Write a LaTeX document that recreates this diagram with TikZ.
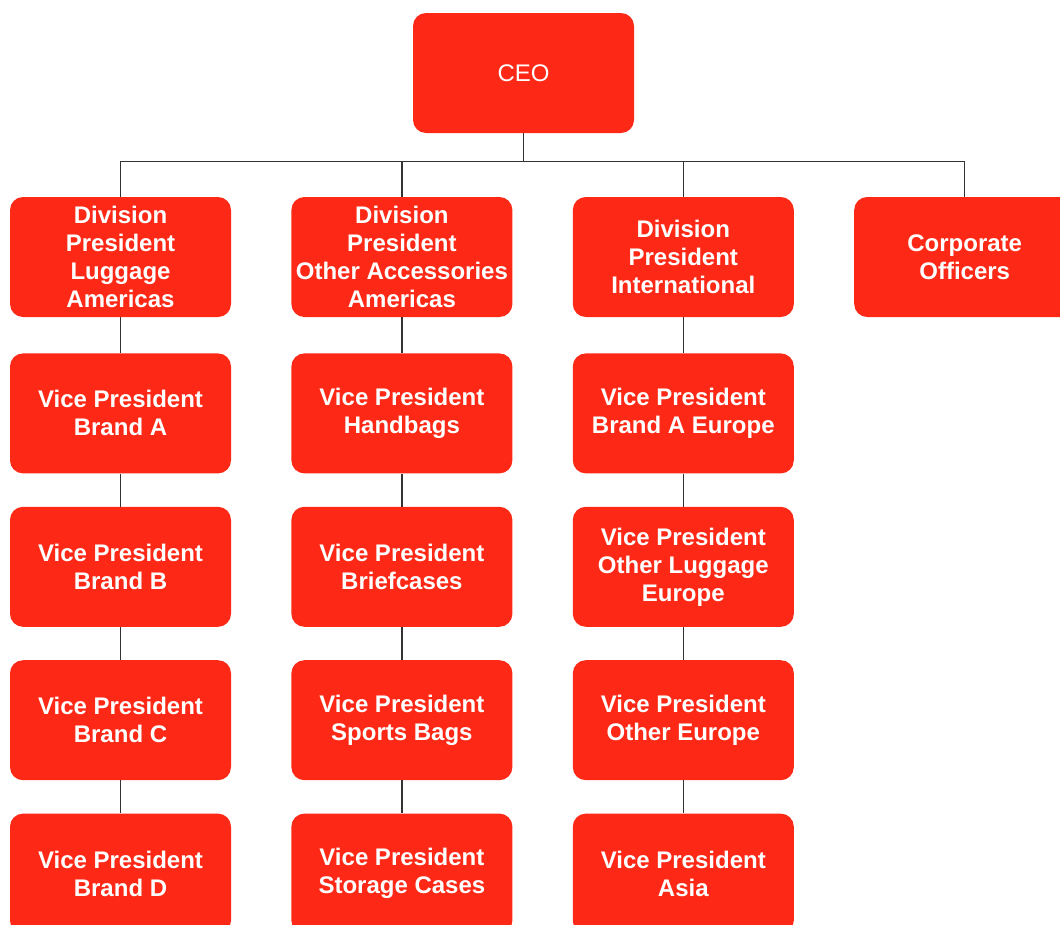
\documentclass[tikz,border=0pt]{standalone}
\usepackage{fontspec}
\setmainfont{Liberation Sans}
\usetikzlibrary{positioning,calc}
\definecolor{boxred}{RGB}{253,41,22}
\definecolor{linegray}{RGB}{51,51,51}
\tikzset{
  unit/.style={fill=boxred, text=white, rounded corners=13pt,
    minimum width=221pt, minimum height=120pt, inner sep=0pt,
    align=center, font=\fontsize{24}{28}\selectfont\bfseries},
  link/.style={draw=linegray, line width=1.3pt}
}

\begin{document}
\begin{tikzpicture}[node distance=33pt and 60pt]

  \useasboundingbox (0,0) rectangle (1060pt,-924pt);

  % Define nodes
  \node[unit, font=\fontsize{24}{28}\selectfont] (ceo) at (523.5pt,-73pt) {CEO};
  \node[unit] (d1) at (120.5pt,-257pt) {Division\\President\\Luggage\\Americas};
  \node[unit, right=of d1] (d2) {Division\\President\\Other Accessories\\Americas};
  \node[unit, right=of d2] (d3) {Division\\President\\International};
  \node[unit, right=of d3] (d4) {Corporate\\Officers};

  \node[unit, below=36pt of d1] (v11) {Vice President\\Brand A};
  \node[unit, below=of v11]     (v12) {Vice President\\Brand B};
  \node[unit, below=of v12]     (v13) {Vice President\\Brand C};
  \node[unit, below=of v13]     (v14) {Vice President\\Brand D};

  \node[unit, below=36pt of d2] (v21) {Vice President\\Handbags};
  \node[unit, below=of v21]     (v22) {Vice President\\Briefcases};
  \node[unit, below=of v22]     (v23) {Vice President\\Sports Bags};
  \node[unit, below=of v23]     (v24) {Vice President\\Storage Cases};

  \node[unit, below=36pt of d3] (v31) {Vice President\\Brand A Europe};
  \node[unit, below=of v31]     (v32) {Vice President\\Other Luggage\\Europe};
  \node[unit, below=of v32]     (v33) {Vice President\\Other Europe};
  \node[unit, below=of v33]     (v34) {Vice President\\Asia};

  % Connect the nodes
  \coordinate (bus) at ($(ceo.south)+(0,-28pt)$);
  \foreach \d in {d1,d2,d3,d4}
    \draw[link] (ceo.south) -- (bus) -| (\d.north);
  \foreach \c in {1,2,3} {
    \draw[link] (d\c) -- (v\c1);
    \draw[link] (v\c1) -- (v\c2);
    \draw[link] (v\c2) -- (v\c3);
    \draw[link] (v\c3) -- (v\c4);
  }

\end{tikzpicture}
\end{document}
